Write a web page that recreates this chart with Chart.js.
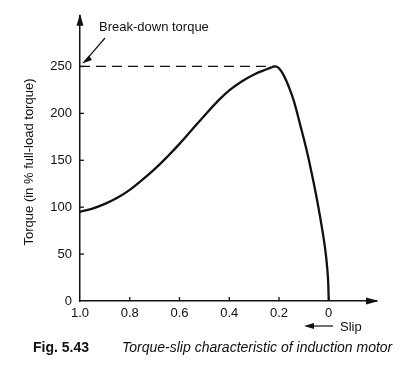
<!DOCTYPE html>
<html>
<head>
<meta charset="utf-8">
<script src="https://cdn.jsdelivr.net/npm/chart.js@4/dist/chart.umd.min.js"></script>
<style>
html,body{margin:0;padding:0;background:#fff;}
#wrap{width:401px;height:369px;position:relative;}
</style>
</head>
<body>
<div id="wrap"><canvas id="c" width="401" height="369"></canvas></div>
<script>
// ---- data ----
const slip   = [1.0, 0.95, 0.9, 0.85, 0.8, 0.75, 0.7, 0.65, 0.6, 0.55, 0.5, 0.45, 0.4, 0.35, 0.3, 0.25, 0.23, 0.215, 0.2, 0.18, 0.16, 0.14, 0.115, 0.09, 0.07, 0.05, 0.035, 0.02, 0.01, 0.003, 0];
const torque = [95, 98.5, 103.5, 110, 118.5, 129, 140.5, 153.5, 167.5, 182.5, 197.5, 212, 224.5, 234, 241.5, 247, 249, 250, 248, 240, 228, 213, 188, 162, 138, 112, 90, 66, 46, 24, 0];
const breakdownTorque = 250;
const breakdownSlip = 0.215;
const xTicks = [1.0, 0.8, 0.6, 0.4, 0.2, 0];
const yTicks = [0, 50, 100, 150, 200, 250];
const yTitle = 'Torque (in % full-load torque)';
const breakdownLabel = 'Break-down torque';
const slipLabel = 'Slip';
const figLabel = 'Fig. 5.43';
const captionText = 'Torque-slip characteristic of induction motor';

const FONT = '"Liberation Sans", Arial, Helvetica, sans-serif';

const curveData = slip.map((s, i) => ({x: s, y: torque[i]}));
const dashData = [{x: xTicks[0], y: breakdownTorque}, {x: breakdownSlip, y: breakdownTorque}];

const decor = {
  id: 'decor',
  afterDraw(chart) {
    const ctx = chart.ctx;
    const xs = chart.scales.x, ys = chart.scales.y;
    const ca = chart.chartArea;
    const ax = ca.left, ay = ca.bottom;
    ctx.save();
    ctx.strokeStyle = '#111';
    ctx.fillStyle = '#111';
    ctx.lineWidth = 1.3;
    // inward tick marks
    yTicks.forEach(v => {
      if (v === 0) return;
      const py = ys.getPixelForValue(v);
      ctx.beginPath(); ctx.moveTo(ax, py); ctx.lineTo(ax + 4, py); ctx.stroke();
    });
    xTicks.forEach(v => {
      if (v === xTicks[0]) return;
      const px = xs.getPixelForValue(v);
      ctx.beginPath(); ctx.moveTo(px, ay); ctx.lineTo(px, ay - 4); ctx.stroke();
    });
    // y axis arrow
    ctx.beginPath();
    ctx.moveTo(ax, ca.top - 2);
    ctx.lineTo(ax - 3.5, ca.top + 10);
    ctx.lineTo(ax + 3.5, ca.top + 10);
    ctx.closePath(); ctx.fill();
    // x axis arrow
    ctx.beginPath();
    ctx.moveTo(ca.right + 3, ay);
    ctx.lineTo(ca.right - 10, ay - 3.5);
    ctx.lineTo(ca.right - 10, ay + 3.5);
    ctx.closePath(); ctx.fill();

    // break-down label + arrow
    ctx.font = '13px ' + FONT;
    ctx.textBaseline = 'middle';
    ctx.textAlign = 'left';
    ctx.fillText(breakdownLabel, 99, 27);
    const by = ys.getPixelForValue(breakdownTorque);
    ctx.lineWidth = 1.2;
    ctx.beginPath(); ctx.moveTo(105, 38); ctx.lineTo(84, by - 4); ctx.stroke();
    ctx.beginPath();
    ctx.moveTo(82, by - 3);
    ctx.lineTo(89, by - 11);
    ctx.lineTo(92, by - 6.5);
    ctx.closePath(); ctx.fill();

    // slip arrow and label
    ctx.lineWidth = 1.2;
    ctx.beginPath(); ctx.moveTo(333, 326); ctx.lineTo(310, 326); ctx.stroke();
    ctx.beginPath();
    ctx.moveTo(304, 326); ctx.lineTo(314, 323); ctx.lineTo(314, 329);
    ctx.closePath(); ctx.fill();
    ctx.font = '13px ' + FONT;
    ctx.fillText(slipLabel, 340, 327);

    // y title
    ctx.save();
    ctx.translate(29, 162);
    ctx.rotate(-Math.PI / 2);
    ctx.textAlign = 'center';
    ctx.font = '13px ' + FONT;
    ctx.fillText(yTitle, 0, 0, 174);
    ctx.restore();

    // caption
    ctx.textAlign = 'left';
    ctx.font = 'bold 14px ' + FONT;
    ctx.fillText(figLabel, 33, 348, 67);
    ctx.font = 'italic 14px ' + FONT;
    ctx.fillText(captionText, 122, 348, 275);
    ctx.restore();
  }
};

new Chart(document.getElementById('c'), {
  type: 'line',
  data: {
    datasets: [
      {data: curveData, borderColor: '#111', borderWidth: 2.3, pointRadius: 0, tension: 0.4, fill: false},
      {data: dashData, borderColor: '#111', borderWidth: 1.2, borderDash: [10, 6], pointRadius: 0, fill: false}
    ]
  },
  options: {
    responsive: false,
    animation: false,
    devicePixelRatio: 1,
    layout: {padding: {top: 3, right: 25, left: 0, bottom: 0}},
    plugins: {legend: {display: false}, tooltip: {enabled: false}},
    scales: {
      x: {
        type: 'linear', reverse: true, min: -0.19, max: 1.0,
        afterBuildTicks: s => { s.ticks = xTicks.map(v => ({value: v})); },
        afterFit: s => { s.height = 68; },
        grid: {display: false, drawTicks: false},
        border: {display: true, color: '#111', width: 1.5},
        ticks: {
          color: '#111', font: {family: FONT, size: 13}, padding: 5, maxRotation: 0,
          callback: v => v === 0 ? '0' : Number(v).toFixed(1)
        }
      },
      y: {
        type: 'linear', min: 0, max: 304,
        afterBuildTicks: s => { s.ticks = yTicks.map(v => ({value: v})); },
        afterFit: s => { s.width = 80; },
        grid: {display: false, drawTicks: false},
        border: {display: true, color: '#111', width: 1.5},
        ticks: {color: '#111', font: {family: FONT, size: 13}, padding: 8}
      }
    }
  },
  plugins: [decor]
});
</script>
</body>
</html>
